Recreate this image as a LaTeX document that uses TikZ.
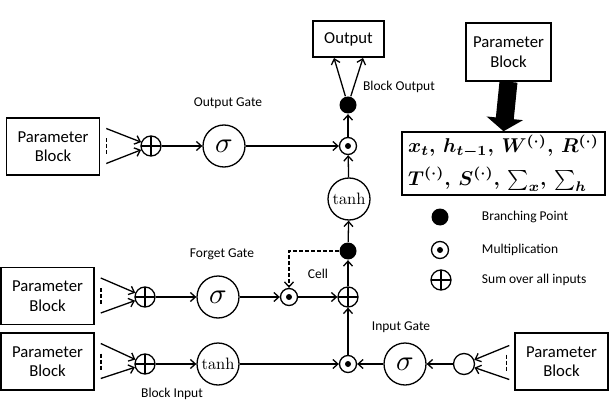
\documentclass[tikz,border=0pt]{standalone}
\usepackage{amsmath,amssymb,bm}
\usepackage[no-math]{fontspec}
\setmainfont{Carlito}
\usetikzlibrary{arrows.meta}
\usetikzlibrary{calc}

\newcommand{\bigsig}{\scalebox{2.9}{$\sigma$}}
\newcommand{\bigtanh}{\scalebox{1.65}{$\tanh$}}

\tikzset{
    gate/.style={circle, draw, line width=1.3pt, minimum size=42pt, inner sep=0pt},
    sumnode/.style={circle, draw, line width=1.3pt, minimum size=20pt, inner sep=0pt,
        path picture={\draw [line width=1.3pt] (path picture bounding box.north) -- (path picture bounding box.south)
            (path picture bounding box.west) -- (path picture bounding box.east);}},
    multnode/.style={circle, draw, line width=1.3pt, minimum size=17pt, inner sep=0pt,
        path picture={\fill (path picture bounding box.center) circle [radius=3pt];}},
    branch/.style={circle, fill, minimum size=17pt, inner sep=0pt},
    parblock/.style={draw, line width=1.5pt, minimum width=93pt, minimum height=57pt, align=center,
        font=\fontsize{16.7}{19.5}\selectfont},
    lbl/.style={font=\fontsize{13.5}{15}\selectfont},
    inmark/.style={line width=1.5pt, dash pattern=on 4pt off 2pt},
    mathbox/.style={draw, line width=1.5pt, minimum width=203pt, minimum height=63pt,
        inner sep=2pt}
}

\begin{document}
\begin{tikzpicture}[x=1pt, y=-1pt, line width=1.3pt, >={Straight Barb[length=5pt,width=9pt]}]
    \useasboundingbox (0,0) rectangle (609,403);
    % output gate
    \node [parblock] (pbo) at (53,146.5) {Parameter\\Block};
    \node [sumnode] (sumo) at (151,146) {};
    \node [gate] (sigo) at (224,146) {\bigsig};
    \node [multnode] (multo) at (348,146) {};
    \node [branch] (bro) at (348,105) {};
    \node [parblock, minimum width=71pt, minimum height=36pt] (out) at (348.5,39) {Output};
    \coordinate (outl) at (334,58);
    \coordinate (outr) at (363,58);
    \node [lbl] (lgo) at (228,103) {Output Gate};
    \node [lbl] (lbo) at (399,87) {Block Output};
    % forget gate and cell
    \node [parblock] (pbf) at (47.5,296) {Parameter\\Block};
    \node [sumnode] (sumf) at (145,297) {};
    \node [gate] (sigf) at (218,297) {\bigsig};
    \node [multnode] (multf) at (289,297) {};
    \node [sumnode] (sumc) at (348,297) {};
    \node [branch] (brc) at (348,251) {};
    \node [gate] (tanhc) at (349,199) {\bigtanh};
    \node [lbl] (lgf) at (222,254) {Forget Gate};
    \node [lbl] (lcell) at (318,274) {Cell};
    % block input and input gate
    \node [parblock] (pbi) at (47.5,361.5) {Parameter\\Block};
    \node [sumnode] (sumi) at (145,364) {};
    \node [gate] (tanhi) at (218,364) {\bigtanh};
    \node [multnode] (multi) at (348,364) {};
    \node [gate] (sigi) at (405,364) {\bigsig};
    \node [circle, draw, line width=1.3pt, minimum size=21pt, inner sep=0pt] (sumg) at (464,364) {};
    \node [parblock] (pbg) at (561.5,361.5) {Parameter\\Block};
    \node [lbl] (lgi) at (401,327) {Input Gate};
    \node [lbl] (lbi) at (172,394) {Block Input};
    % parameters and legend
    \node [parblock, minimum width=85pt, minimum height=58pt] (pbt) at (508.5,52) {Parameter\\Block};
    \node [mathbox] (pmath) at (503.5,163.5) {\scalebox{2}{\boldmath\begin{tabular}{@{}l@{}}
        $x_t,\,h_{t-1},\,W^{(\cdot)},\,R^{(\cdot)}$\\[4pt]
        $T^{(\cdot)},\,S^{(\cdot)},\,\sum_x,\,\sum_h$\end{tabular}}};
    \node [branch] (legb) at (440,217) {};
    \node [multnode] (legm) at (440,250) {};
    \node [sumnode] (legs) at (441,280) {};
    \node [lbl, anchor=west] (legbt) at (478,217) {Branching Point};
    \node [lbl, anchor=west] (legmt) at (478,250) {Multiplication};
    \node [lbl, anchor=west] (legst) at (478,280) {Sum over all inputs};

    \foreach \b/\s in {pbo/sumo, pbf/sumf, pbi/sumi} {
        \coordinate (\b-a) at ($(\b.east)+(6,-18)$);
        \coordinate (\b-b) at ($(\b.east)+(6,17)$);
        \draw [->] (\b-a) -- (\s);
        \draw [->] (\b-b) -- (\s);
        \draw [inmark] ($(\b.east)+(6,-8)$) -- ($(\b.east)+(6,9)$);
    }
    \coordinate (pbg-a) at ($(pbg.west)+(-5,-16)$);
    \coordinate (pbg-b) at ($(pbg.west)+(-5,18)$);
    \draw [->] (pbg-a) -- (sumg);
    \draw [->] (pbg-b) -- (sumg);
    \draw [inmark] ($(pbg.west)+(-8,-7)$) -- ($(pbg.west)+(-8,9)$);

    \draw [->] (sumo) -- (sigo);
    \draw [->] (sigo) -- (multo);
    \draw [->] (tanhc) -- (multo);
    \draw [->] (multo) -- (bro);
    \draw [->] (bro) -- (outl);
    \draw [->] (bro) -- (outr);
    \draw [->] (sumf) -- (sigf);
    \draw [->] (sigf) -- (multf);
    \draw [->] (multf) -- (sumc);
    \draw [->] (sumc) -- (brc);
    \draw [->] (brc) -- (tanhc);
    \draw [->, dash pattern=on 4pt off 2pt] (brc.west) -| (multf.north);
    \draw [->] (sumi) -- (tanhi);
    \draw [->] (tanhi) -- (multi);
    \draw [->] (sigi) -- (multi);
    \draw [->] (sumg) -- (sigi);
    \draw [->] (multi) -- (sumc);
    \draw [line width=18pt, -{Triangle[length=13pt,width=36pt]}] (pbt.south) -- (pmath.north);
\end{tikzpicture}
\end{document}
